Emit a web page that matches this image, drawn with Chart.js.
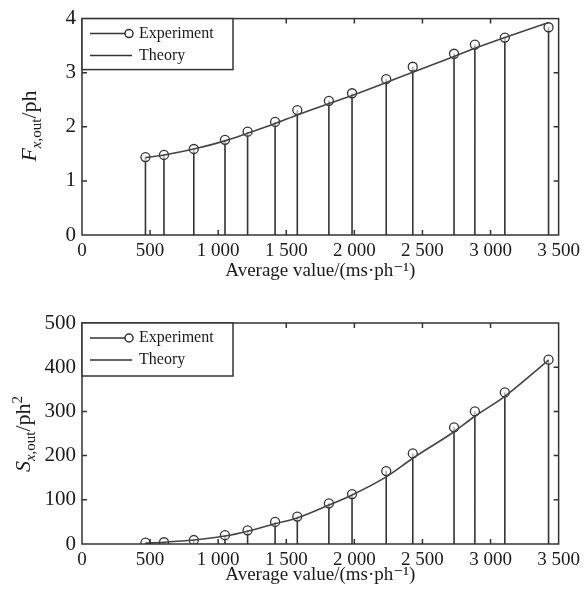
<!DOCTYPE html>
<html lang="en">
<head>
<meta charset="UTF-8">
<title>Output mean and variance vs average value</title>
<script src="https://cdn.jsdelivr.net/npm/chart.js"></script>
<style>
    body { margin: 0; background: #fff; }
    .wrap { position: relative; width: 585px; height: 591px; font-family: 'Liberation Serif', 'Times New Roman', serif; color: #1a1a1a; }
    canvas { position: absolute; left: 0; }
    #meanChart { top: 0; }
    #varChart { top: 290px; }
    .ytitle { position: absolute; transform: translate(-50%, -50%) rotate(-90deg); white-space: nowrap; font-size: 22px; line-height: 1; }
    .ytitle sub, .ytitle sup { font-size: 15px; }
</style>
</head>
<body>
<div class="wrap">
    <canvas id="meanChart" width="585" height="290"></canvas>
    <canvas id="varChart" width="585" height="301"></canvas>
    <div class="ytitle" style="left:31px; top:126px"><i>F</i><sub><i>x</i>,out</sub>/ph</div>
    <div class="ytitle" style="left:24px; top:434px"><i>S</i><sub><i>x</i>,out</sub>/ph<sup>2</sup></div>
</div>
<script>
    // x positions of the measurements (average value, ms/ph)
    const avgValues = [466, 602, 821, 1050, 1216, 1418, 1581, 1813, 1983, 2234, 2429, 2732, 2885, 3105, 3426];
    // top panel: F_x,out
    const meanExperiment = [1.44, 1.48, 1.59, 1.76, 1.91, 2.09, 2.31, 2.48, 2.62, 2.88, 3.11, 3.35, 3.52, 3.65, 3.84];
    const meanTheory = [1.43, 1.48, 1.59, 1.74, 1.88, 2.06, 2.22, 2.43, 2.58, 2.82, 3.01, 3.30, 3.45, 3.65, 3.93];
    // bottom panel: S_x,out
    const varExperiment = [3, 4, 9, 20, 31, 50, 62, 92, 113, 165, 205, 264, 300, 343, 417];
    const varTheory = [2, 4, 9, 18, 29, 46, 59, 88, 111, 152, 194, 254, 289, 334, 416];

    const xTicks = [0, 500, 1000, 1500, 2000, 2500, 3000, 3500];
    const xTickLabels = ['0', '500', '1 000', '1 500', '2 000', '2 500', '3 000', '3 500'];
    const meanTicks = [0, 1, 2, 3, 4];
    const varTicks = [0, 100, 200, 300, 400, 500];

    const INK = '#333';
    const FONT = "'Liberation Serif', 'DejaVu Serif', serif";
    Chart.defaults.font.family = FONT;
    Chart.defaults.color = '#1a1a1a';

    // box around plot, inward ticks on all sides, and the in-plot legend
    const framePlugin = {
        id: 'frame',
        afterDatasetsDraw(chart, args, opts) {
            const { ctx, chartArea: a, scales: { x, y } } = chart;
            ctx.save();
            ctx.strokeStyle = INK;
            ctx.lineWidth = 1.5;
            ctx.strokeRect(a.left, a.top, a.right - a.left, a.bottom - a.top);
            ctx.beginPath();
            x.ticks.forEach(t => {
                const px = x.getPixelForValue(t.value);
                if (px <= a.left + 1 || px >= a.right - 1) return;
                ctx.moveTo(px, a.bottom); ctx.lineTo(px, a.bottom - 5);
                ctx.moveTo(px, a.top); ctx.lineTo(px, a.top + 5);
            });
            y.ticks.forEach(t => {
                const py = y.getPixelForValue(t.value);
                if (py <= a.top + 1 || py >= a.bottom - 1) return;
                ctx.moveTo(a.left, py); ctx.lineTo(a.left + 5, py);
                ctx.moveTo(a.right, py); ctx.lineTo(a.right - 5, py);
            });
            ctx.stroke();

            // legend
            const lx = a.left, ly = a.top, w = 151, h = opts.legendHeight;
            ctx.fillStyle = '#fff';
            ctx.fillRect(lx, ly, w, h);
            ctx.strokeRect(lx, ly, w, h);
            const r1 = ly + 15, r2 = ly + 37;
            ctx.beginPath();
            ctx.moveTo(lx + 8, r1); ctx.lineTo(lx + 43, r1);
            ctx.moveTo(lx + 8, r2); ctx.lineTo(lx + 50, r2);
            ctx.stroke();
            ctx.beginPath();
            ctx.arc(lx + 47, r1, 4, 0, Math.PI * 2);
            ctx.stroke();
            ctx.fillStyle = '#1a1a1a';
            ctx.font = '16px ' + FONT;
            ctx.textBaseline = 'middle';
            ctx.fillText('Experiment', lx + 57, r1);
            ctx.fillText('Theory', lx + 57, r2);
            ctx.restore();
        }
    };

    function stemData(xs, ys) {
        const out = [];
        xs.forEach((x, i) => {
            out.push({ x: x, y: 0 }, { x: x, y: ys[i] }, { x: x, y: null });
        });
        return out;
    }

    function pairs(xs, ys) {
        return xs.map((x, i) => ({ x: x, y: ys[i] }));
    }

    function makeChart(id, cfg) {
        return new Chart(document.getElementById(id), {
            type: 'line',
            data: {
                datasets: [
                    {
                        label: 'stems',
                        data: stemData(avgValues, cfg.experiment),
                        borderColor: INK,
                        borderWidth: 1.6,
                        pointRadius: 0,
                        spanGaps: false,
                        order: 3
                    },
                    {
                        label: 'Experiment',
                        data: pairs(avgValues, cfg.experiment),
                        showLine: false,
                        pointRadius: 4.5,
                        pointBorderWidth: 1.3,
                        pointBorderColor: INK,
                        pointBackgroundColor: 'rgba(255,255,255,0.6)',
                        order: 2
                    },
                    {
                        label: 'Theory',
                        data: pairs(avgValues, cfg.theory),
                        borderColor: '#444',
                        borderWidth: 1.6,
                        pointRadius: 0,
                        cubicInterpolationMode: 'monotone',
                        order: 1
                    }
                ]
            },
            options: {
                responsive: false,
                animation: false,
                layout: { padding: { top: cfg.padTop, right: 26, left: 0, bottom: 0 } },
                plugins: {
                    legend: { display: false },
                    tooltip: { enabled: false },
                    frame: { legendHeight: cfg.legendHeight }
                },
                scales: {
                    x: {
                        type: 'linear',
                        min: 0,
                        max: 3500,
                        afterFit: s => { s.height = cfg.xAxisHeight; },
                        afterBuildTicks: s => { s.ticks = xTicks.map(v => ({ value: v })); },
                        grid: { display: false, drawTicks: false },
                        border: { display: false },
                        ticks: {
                            padding: 5,
                            maxRotation: 0,
                            autoSkip: false,
                            font: { size: 19 },
                            callback: (v, i) => xTickLabels[i]
                        },
                        title: {
                            display: true,
                            text: 'Average value/(ms·ph⁻¹)',
                            font: { size: 19 },
                            padding: { top: 0, bottom: cfg.titlePad }
                        }
                    },
                    y: {
                        min: 0,
                        max: cfg.yMax,
                        afterFit: s => { s.width = 82; },
                        afterBuildTicks: s => { s.ticks = cfg.yTicks.map(v => ({ value: v })); },
                        grid: { display: false, drawTicks: false },
                        border: { display: false },
                        ticks: { padding: 6, font: { size: 21 } }
                    }
                }
            },
            plugins: [framePlugin]
        });
    }

    makeChart('meanChart', {
        experiment: meanExperiment,
        theory: meanTheory,
        yMax: 4,
        yTicks: meanTicks,
        padTop: 14,
        xAxisHeight: 55,
        titlePad: 8,
        legendHeight: 51
    });

    makeChart('varChart', {
        experiment: varExperiment,
        theory: varTheory,
        yMax: 500,
        yTicks: varTicks,
        padTop: 33,
        xAxisHeight: 47,
        titlePad: 5,
        legendHeight: 53
    });
</script>
</body>
</html>
